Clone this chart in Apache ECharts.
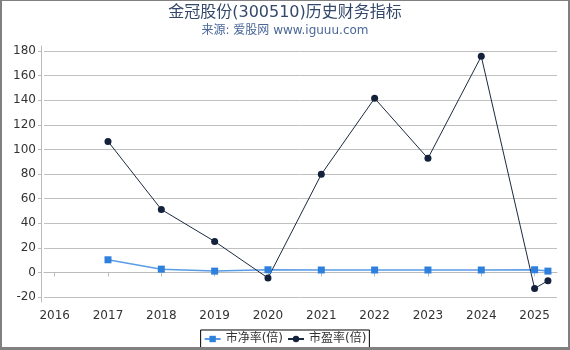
<!DOCTYPE html>
<html><head><meta charset="utf-8">
<script src="https://cdn.jsdelivr.net/npm/echarts@6/dist/echarts.min.js"></script>
<style>
html,body{margin:0;padding:0;background:#fff;}
#frame{position:absolute;left:0;top:0;width:566px;height:346px;border-left:2px solid #808080;border-top:1px solid #808080;border-right:2px solid #808080;border-bottom:3px solid #808080;}
#c{position:absolute;left:0;top:0;width:570px;height:350px;}
</style></head>
<body>
<div id="c"></div>
<div id="frame"></div>
<script>
const titleText = '金冠股份(300510)历史财务指标';
const subText = '来源: 爱股网 www.iguuu.com';
const xYears = [2017, 2018, 2019, 2020, 2021, 2022, 2023, 2024, 2025, 2025.25];
const pbValues = [10.3, 2.7, 1.1, 2.2, 2.0, 2.0, 2.0, 2.0, 2.2, 1.1];
const peValues = [106.5, 51.2, 25.2, -4.5, 79.7, 141.5, 92.7, 175.6, -13.0, -6.7];
const xTicks = [2016, 2017, 2018, 2019, 2020, 2021, 2022, 2023, 2024, 2025];
const yTicks = [-20, 0, 20, 40, 60, 80, 100, 120, 140, 160, 180];
const seriesNames = ['市净率(倍)', '市盈率(倍)'];

const chart = echarts.init(document.getElementById('c'), null, {renderer: 'canvas'});
const font = 'DejaVu Sans, Noto Sans CJK SC, sans-serif';
chart.setOption({
  animation: false,
  backgroundColor: '#fff',
  title: {
    text: titleText, subtext: subText, left: 'center', top: 0, itemGap: 4,
    textStyle: {fontSize: 16, fontWeight: 'normal', color: '#33486a', fontFamily: font},
    subtextStyle: {fontSize: 12, color: '#4a6798', fontFamily: font}
  },
  legend: {
    bottom: 2, left: 'center', borderColor: '#000', borderWidth: 1, borderRadius: 0,
    padding: [3, 3], itemGap: 4, itemWidth: 16, itemHeight: 8,
    textStyle: {fontSize: 12, color: '#333', fontFamily: font},
    data: seriesNames
  },
  grid: {left: 44, right: 13, top: 46, bottom: 48, containLabel: false},
  xAxis: {
    type: 'value', min: 2015.8, max: 2025.42, offset: 3,
    axisLine: {show: true, lineStyle: {color: '#bbb'}},
    axisTick: {show: true, customValues: xTicks, length: 4, lineStyle: {color: '#bbb'}},
    axisLabel: {customValues: xTicks, color: '#333', fontSize: 12, fontFamily: font, formatter: v => String(Math.round(v)), margin: 5},
    splitLine: {show: false}
  },
  yAxis: {
    type: 'value', min: -24, max: 184, offset: 3,
    axisLine: {show: true, lineStyle: {color: '#bbb'}},
    axisTick: {show: true, customValues: yTicks, length: 3, lineStyle: {color: '#bbb'}},
    axisLabel: {customValues: yTicks, color: '#333', fontSize: 12, fontFamily: font, margin: 5},
    splitLine: {show: true, lineStyle: {color: '#c0c0c0', width: 1}}
  },
  series: [
    {
      name: seriesNames[0], type: 'line', data: xYears.map((x, i) => [x, pbValues[i]]),
      symbol: 'rect', symbolSize: 7, color: '#2f80dd',
      lineStyle: {width: 1.5, color: '#5a9be6'}, itemStyle: {color: '#2f80dd'}
    },
    {
      name: seriesNames[1], type: 'line', data: xYears.map((x, i) => [x, peValues[i]]),
      symbol: 'circle', symbolSize: 7, color: '#14213a',
      lineStyle: {width: 1, color: '#1c2a40'}, itemStyle: {color: '#14213a'}
    }
  ]
});
</script>
</body></html>
